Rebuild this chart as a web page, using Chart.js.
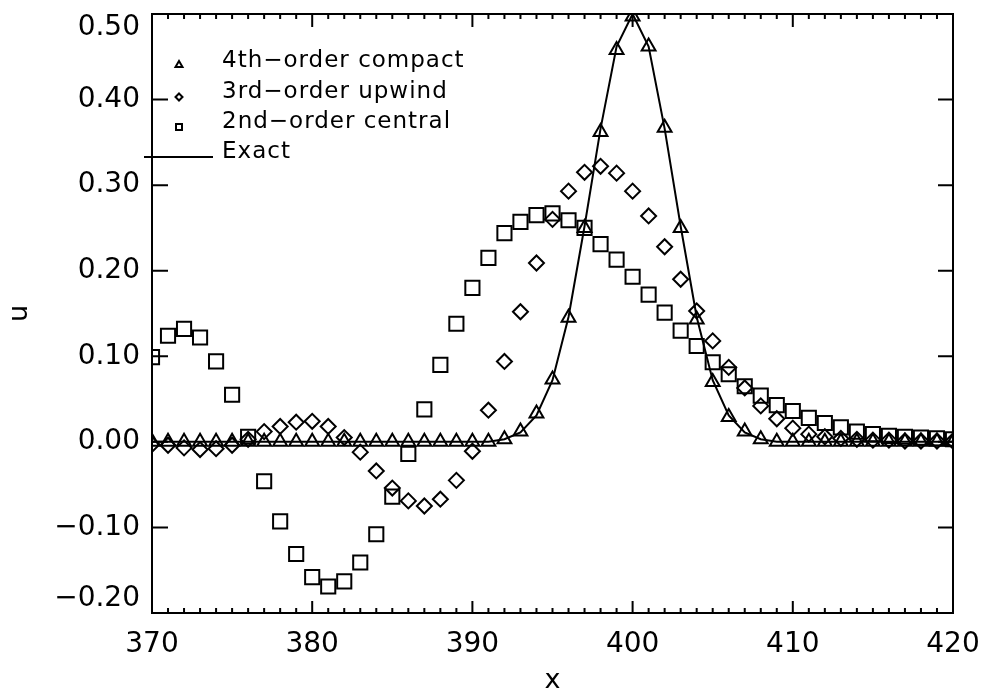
<!DOCTYPE html>
<html>
<head>
<meta charset="utf-8">
<script src="https://cdn.jsdelivr.net/npm/chart.js@4/dist/chart.umd.min.js"></script>
<style>
  html, body { margin: 0; padding: 0; background: #fff; }
  #wrap { width: 990px; height: 694px; }
</style>
</head>
<body>
<div id="wrap"><canvas id="waveChart" width="990" height="694"></canvas></div>
<script>
// grid points (x)
const xPoints = [370, 371, 372, 373, 374, 375, 376, 377, 378, 379,
                 380, 381, 382, 383, 384, 385, 386, 387, 388, 389,
                 390, 391, 392, 393, 394, 395, 396, 397, 398, 399,
                 400, 401, 402, 403, 404, 405, 406, 407, 408, 409,
                 410, 411, 412, 413, 414, 415, 416, 417, 418, 419, 420];

// 4th-order compact (triangles)
const compactU = [0, 0, 0, 0, 0, 0, 0, 0, 0, 0,
                  0, 0, 0, 0, 0, 0, 0, 0, 0, 0,
                  0, 0, 0.003, 0.012, 0.033, 0.073, 0.145, 0.25, 0.362, 0.458,
                  0.497, 0.462, 0.367, 0.25, 0.143, 0.07, 0.029, 0.012, 0.003, 0,
                  0, 0, 0, 0, 0, 0, 0, 0, 0, 0, 0];

// 3rd-order upwind (diamonds)
const upwindU = [-0.003, -0.004, -0.007, -0.009, -0.008, -0.004, 0.003, 0.012, 0.018, 0.023,
                 0.024, 0.018, 0.005, -0.012, -0.034, -0.054, -0.069, -0.075, -0.067, -0.045,
                 -0.011, 0.037, 0.094, 0.152, 0.209, 0.26, 0.293, 0.315, 0.322, 0.314,
                 0.293, 0.264, 0.228, 0.19, 0.153, 0.118, 0.087, 0.063, 0.042, 0.027,
                 0.016, 0.009, 0.006, 0.004, 0.003, 0.002, 0.002, 0.001, 0.001, 0.001, 0.001];

// 2nd-order central (squares)
const centralU = [0.099, 0.124, 0.132, 0.122, 0.094, 0.055, 0.006, -0.046, -0.093, -0.131,
                  -0.158, -0.169, -0.163, -0.141, -0.108, -0.064, -0.014, 0.038, 0.09, 0.138,
                  0.18, 0.215, 0.244, 0.257, 0.265, 0.267, 0.259, 0.25, 0.231, 0.213,
                  0.193, 0.172, 0.151, 0.13, 0.112, 0.093, 0.079, 0.065, 0.054, 0.043,
                  0.036, 0.028, 0.022, 0.017, 0.012, 0.009, 0.007, 0.006, 0.005, 0.004, 0.003];

// exact solution (solid line)
const exactU = [0, 0, 0, 0, 0, 0, 0, 0, 0, 0,
                0, 0, 0, 0, 0, 0, 0, 0, 0, 0,
                0, 0, 0.003, 0.011, 0.031, 0.072, 0.146, 0.252, 0.366, 0.462,
                0.5, 0.462, 0.366, 0.252, 0.146, 0.072, 0.031, 0.011, 0.003, 0,
                0, 0, 0, 0, 0, 0, 0, 0, 0, 0, 0];

const legendLabels = ['4th\u2212order compact', '3rd\u2212order upwind', '2nd\u2212order central', 'Exact'];
const yTicks = [-0.2, -0.1, 0, 0.1, 0.2, 0.3, 0.4, 0.5];
const xTicks = [370, 380, 390, 400, 410, 420];

const toXY = arr => arr.map((v, i) => ({ x: xPoints[i], y: v }));

Chart.defaults.color = '#000';
Chart.defaults.font.family = '"DejaVu Sans", sans-serif';

// frame, inward ticks and in-plot legend
const idlAxes = {
    id: 'idlAxes',
    afterDraw(chart) {
        const { ctx, chartArea: a, scales: { x, y } } = chart;
        ctx.save();
        ctx.strokeStyle = '#000';
        ctx.lineWidth = 2;
        ctx.strokeRect(a.left, a.top, a.right - a.left, a.bottom - a.top);

        ctx.beginPath();
        for (let v = 370; v <= 420; v++) {
            const px = x.getPixelForValue(v);
            const major = v % 10 === 0;
            ctx.moveTo(px, a.bottom); ctx.lineTo(px, a.bottom - (major ? 12 : 5));
            ctx.moveTo(px, a.top); ctx.lineTo(px, a.top + (major ? 13 : 5));
        }
        yTicks.forEach(v => {
            const py = y.getPixelForValue(v);
            ctx.moveTo(a.left, py); ctx.lineTo(a.left + 16, py);
            ctx.moveTo(a.right, py); ctx.lineTo(a.right - 15, py);
        });
        ctx.stroke();

        // legend
        ctx.font = '23px "DejaVu Sans", sans-serif';
        ctx.letterSpacing = '1px';
        ctx.fillStyle = '#000';
        ctx.textBaseline = 'alphabetic';
        const rows = [67, 98, 128, 158];
        legendLabels.forEach((t, i) => ctx.fillText(t, 222, rows[i]));

        ctx.lineWidth = 2;
        // triangle
        ctx.beginPath();
        ctx.moveTo(179, 61); ctx.lineTo(182.5, 67); ctx.lineTo(175.5, 67); ctx.closePath();
        ctx.stroke();
        // diamond
        ctx.beginPath();
        ctx.moveTo(179, 93.5); ctx.lineTo(182.5, 97); ctx.lineTo(179, 100.5); ctx.lineTo(175.5, 97); ctx.closePath();
        ctx.stroke();
        // square
        ctx.strokeRect(176, 124, 6, 6);
        // exact line
        ctx.beginPath();
        ctx.moveTo(144, 157); ctx.lineTo(213, 157);
        ctx.stroke();
        ctx.restore();
    }
};

// y label text; end labels are pushed inside the frame like the original
function yLabel(v) {
    const s = (v < 0 ? '\u2212' : '') + Math.abs(v).toFixed(2);
    if (v >= 0.5) return ['', s];
    if (v <= -0.2) return [s, ''];
    return s;
}

new Chart(document.getElementById('waveChart'), {
    type: 'line',
    data: {
        datasets: [
            {
                label: 'Exact',
                data: toXY(exactU),
                borderColor: '#000',
                borderWidth: 2,
                pointRadius: 0,
                tension: 0
            },
            {
                label: '4th-order compact',
                data: toXY(compactU),
                showLine: false,
                pointStyle: 'triangle',
                pointRadius: 8,
                pointBorderWidth: 2,
                pointBorderColor: '#000',
                pointBackgroundColor: 'rgba(0,0,0,0)'
            },
            {
                label: '3rd-order upwind',
                data: toXY(upwindU),
                showLine: false,
                pointStyle: 'rectRot',
                pointRadius: 7.5,
                pointBorderWidth: 2,
                pointBorderColor: '#000',
                pointBackgroundColor: 'rgba(0,0,0,0)'
            },
            {
                label: '2nd-order central',
                data: toXY(centralU),
                showLine: false,
                pointStyle: 'rect',
                pointRadius: 10,
                pointBorderWidth: 2,
                pointBorderColor: '#000',
                pointBackgroundColor: 'rgba(0,0,0,0)'
            }
        ]
    },
    options: {
        responsive: false,
        animation: false,
        layout: { padding: { top: 14, right: 37, bottom: 0, left: 0 } },
        plugins: {
            legend: { display: false },
            tooltip: { enabled: false }
        },
        scales: {
            x: {
                type: 'linear',
                min: 370,
                max: 420,
                grid: { display: false, drawTicks: false },
                border: { display: false },
                afterBuildTicks: s => { s.ticks = xTicks.map(v => ({ value: v })); },
                afterFit: s => { s.height = 81; s.paddingLeft = 0; s.paddingRight = 0; },
                ticks: {
                    padding: 18,
                    maxRotation: 0,
                    font: { size: 28, lineHeight: 1 },
                    callback: v => String(v)
                },
                title: {
                    display: true,
                    text: 'x',
                    font: { size: 27, lineHeight: 1 },
                    padding: 0
                }
            },
            y: {
                type: 'linear',
                min: -0.2,
                max: 0.5,
                grid: { display: false, drawTicks: false },
                border: { display: false },
                afterBuildTicks: s => { s.ticks = yTicks.map(v => ({ value: v })); },
                afterFit: s => { s.width = 152; s.paddingTop = 0; s.paddingBottom = 0; },
                ticks: {
                    padding: 12,
                    font: { size: 28, lineHeight: 1 },
                    callback: yLabel
                },
                title: {
                    display: true,
                    text: 'u',
                    font: { size: 27, lineHeight: 1 },
                    padding: { top: 6, bottom: 0 }
                }
            }
        }
    },
    plugins: [idlAxes]
});
</script>
</body>
</html>
